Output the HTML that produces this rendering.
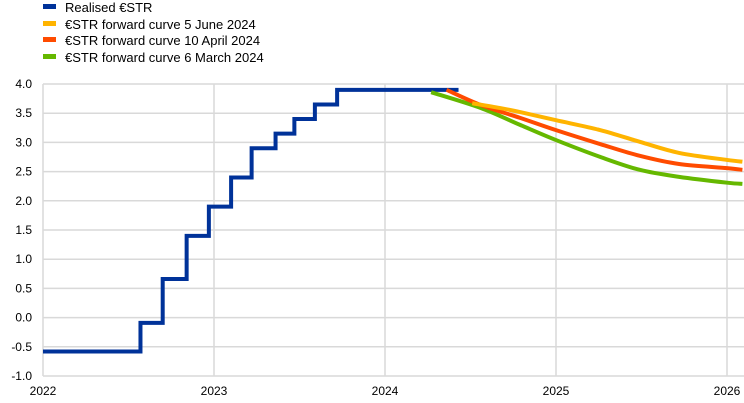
<!DOCTYPE html>
<html><head><meta charset="utf-8"><style>
body{margin:0;background:#fff;width:744px;height:403px;overflow:hidden;font-family:"Liberation Sans",sans-serif}
.leg{position:absolute;left:43px;font-size:13px;color:#000;height:16px;line-height:16px}
.leg span{display:inline-block;width:13px;height:5px;vertical-align:middle;margin-right:9px;position:relative;top:-2px}
</style></head><body>
<div class="leg" style="top:0px"><span style="background:#003299"></span>Realised €STR</div>
<div class="leg" style="top:17px"><span style="background:#ffb400"></span>€STR forward curve 5 June 2024</div>
<div class="leg" style="top:33px"><span style="background:#ff4b00"></span>€STR forward curve 10 April 2024</div>
<div class="leg" style="top:50px"><span style="background:#65b800"></span>€STR forward curve 6 March 2024</div>
<svg id="c" width="744" height="403" style="position:absolute;left:0;top:0"></svg>
<script>
const yTicks=[4.0,3.5,3.0,2.5,2.0,1.5,1.0,0.5,0.0,-0.5,-1.0];
const xTicks=[2022,2023,2024,2025,2026];
const stepDates=[2022.0,2022.57,2022.70,2022.84,2022.97,2023.10,2023.22,2023.36,2023.47,2023.59,2023.72,2024.43];
const stepValues=[-0.58,-0.09,0.66,1.40,1.90,2.40,2.90,3.15,3.40,3.65,3.90,3.90];
const juneX=[2024.51,2024.67,2024.79,2025.0,2025.26,2025.49,2025.72,2026.0,2026.09];
const juneY=[3.67,3.59,3.52,3.38,3.21,3.01,2.82,2.70,2.67];
const aprilX=[2024.36,2024.56,2024.79,2025.0,2025.26,2025.49,2025.72,2026.0,2026.09];
const aprilY=[3.90,3.64,3.42,3.21,2.97,2.77,2.63,2.56,2.53];
const marchX=[2024.27,2024.56,2024.79,2025.0,2025.26,2025.49,2025.72,2026.0,2026.09];
const marchY=[3.86,3.59,3.30,3.04,2.75,2.53,2.41,2.31,2.29];
const NS='http://www.w3.org/2000/svg',svg=document.getElementById('c');
const X=v=>43+(v-2022)*171, Y=v=>84+(4-v)*58.4;
function mk(t,a){const e=document.createElementNS(NS,t);for(const k in a)e.setAttribute(k,a[k]);svg.appendChild(e);return e;}
yTicks.forEach(t=>{
 const l=mk('line',{x1:43,x2:744,y1:Y(t),y2:Y(t),stroke:'#d9d9d9','stroke-width':1.5});
 
 
 const tx=mk('text',{x:32,y:Y(t)+4,'text-anchor':'end','font-size':12,fill:'#000'});
 tx.textContent=t.toFixed(1);
 
 
});
xTicks.forEach(t=>{
 const l=mk('line',{x1:X(t),x2:X(t),y1:84,y2:376,stroke:'#d9d9d9','stroke-width':1.5});
 
 
 const tx=mk('text',{x:X(t),y:395,'text-anchor':'middle','font-size':12,fill:'#000'});
 tx.textContent=t;
 
 
});
function smooth(xs,ys){const p=xs.map((x,i)=>[X(x),Y(ys[i])]);let d='M'+p[0];
 for(let i=0;i<p.length-1;i++){const p0=p[i-1]||p[i],p1=p[i],p2=p[i+1],p3=p[i+2]||p2;
  d+=' C'+[p1[0]+(p2[0]-p0[0])/6,p1[1]+(p2[1]-p0[1])/6]+' '+[p2[0]-(p3[0]-p1[0])/6,p2[1]-(p3[1]-p1[1])/6]+' '+p2;}return d;}
let sd='';stepDates.forEach((d,i)=>{sd+=(i?'L'+X(d)+','+Y(stepValues[i-1])+' L':'M')+X(d)+','+Y(stepValues[i])+' ';});
const s=mk('path',{d:sd,fill:'none',stroke:'#003299','stroke-width':4});


const g=mk('path',{d:smooth(marchX,marchY),fill:'none',stroke:'#65b800','stroke-width':4});


const r=mk('path',{d:smooth(aprilX,aprilY),fill:'none',stroke:'#ff4b00','stroke-width':4});


const y=mk('path',{d:smooth(juneX,juneY),fill:'none',stroke:'#ffb400','stroke-width':4});


</script>
</body></html>
